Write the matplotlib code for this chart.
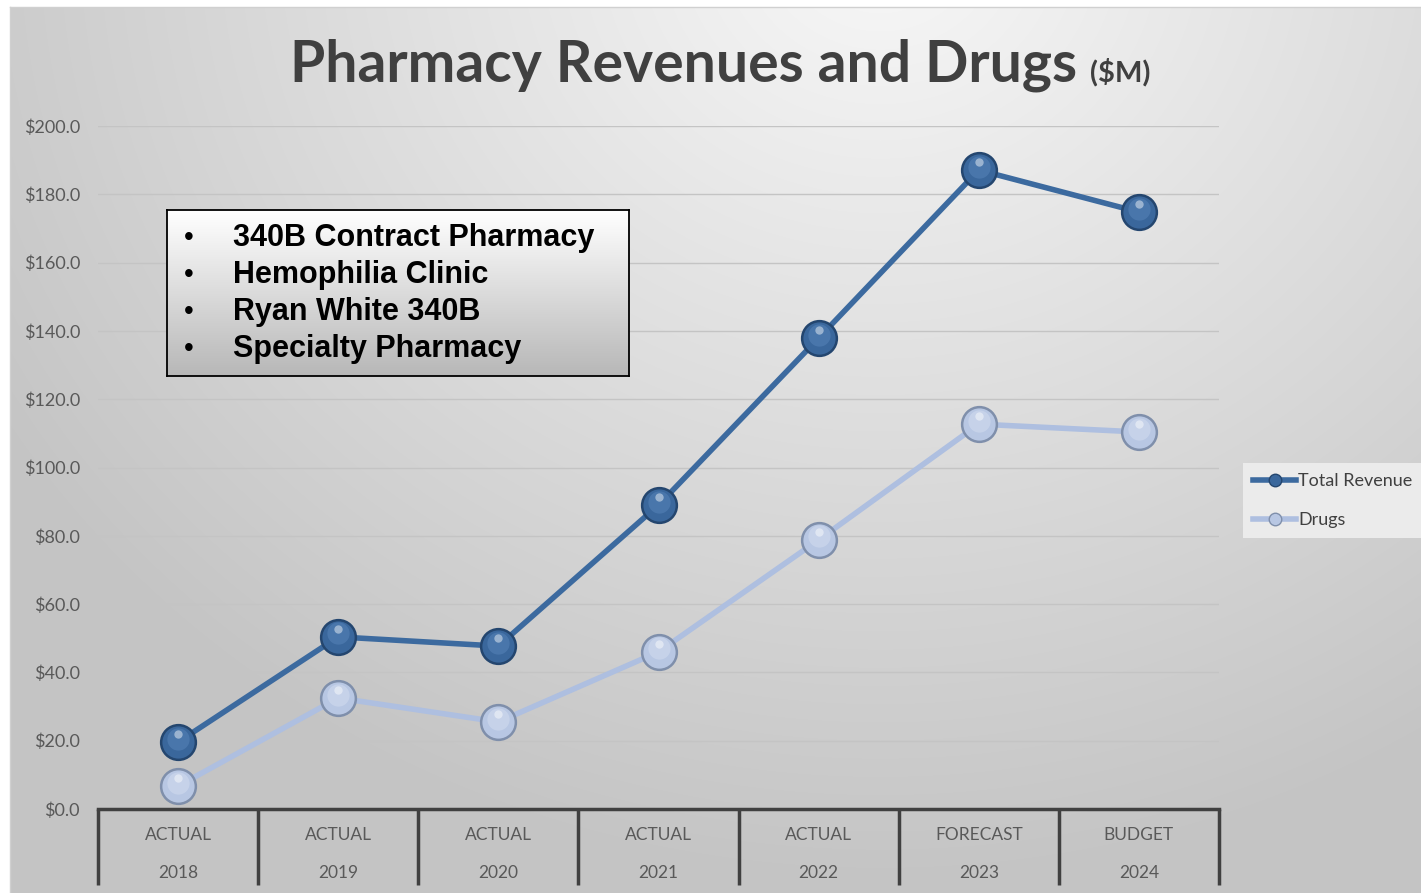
import matplotlib
matplotlib.use("Agg")
import matplotlib.pyplot as plt
import numpy as np
from matplotlib.lines import Line2D
import matplotlib.transforms as mtransforms

# data
phases = ['ACTUAL', 'ACTUAL', 'ACTUAL', 'ACTUAL', 'ACTUAL', 'FORECAST', 'BUDGET']
years = ['2018', '2019', '2020', '2021', '2022', '2023', '2024']
total_revenue = [19.6, 50.4, 47.7, 89.0, 137.9, 187.1, 174.8]
drugs = [6.7, 32.5, 25.5, 46.0, 78.8, 112.7, 110.4]
programs = ['340B Contract Pharmacy', 'Hemophilia Clinic', 'Ryan White 340B', 'Specialty Pharmacy']

W, H = 1421, 893
fig = plt.figure(figsize=(W / 100, H / 100), dpi=100)

# background gradient (chart area starts at x=10, y=7)
bg = fig.add_axes([0, 0, 1, 1], zorder=-10)
bg.set_axis_off()
yy, xx = np.mgrid[0:H, 0:W]
dist = np.sqrt(((xx - 880) * 1.0) ** 2 + ((yy + 60) * 1.1) ** 2)
shade = 248 - 0.05 * dist
shade = np.clip(shade, 196, 248) / 255.0
img = np.dstack([shade, shade, shade])
img[:7, :, :] = 1.0
img[:, :10, :] = 1.0
bg.imshow(img, extent=[0, W, H, 0], aspect='auto', interpolation='bilinear')
bg.set_xlim(0, W)
bg.set_ylim(H, 0)
bg.plot([10, W], [7, 7], color='#d0d0d0', lw=1)
bg.plot([10, 10], [7, H], color='#d0d0d0', lw=1)

# main axes
left, right, top, bottom = 98, 1219, 126, 809
ax = fig.add_axes([left / W, 1 - bottom / H, (right - left) / W, (bottom - top) / H])
ax.patch.set_alpha(0)
x = np.arange(len(years))
ax.set_xlim(-0.5, len(years) - 0.5)
ax.set_ylim(0, 200)
ax.set_yticks(np.arange(0, 201, 20))
ax.set_yticklabels([f'${v:.1f}' for v in np.arange(0, 201, 20)])
ax.tick_params(axis='y', length=0, pad=13, labelsize=13, labelcolor='#595959')
for lab in ax.get_yticklabels():
    lab.set_family('Lato')
ax.set_xticks([])
for s in ['top', 'right', 'left']:
    ax.spines[s].set_visible(False)
ax.spines['bottom'].set_color('#404040')
ax.spines['bottom'].set_linewidth(2.5)
ax.yaxis.grid(True, color='#c4c4c4', lw=1)
ax.set_axisbelow(True)

# category labels with dividers
trans = mtransforms.blended_transform_factory(ax.transData, ax.transAxes)
for i in range(len(years)):
    ax.text(i, -0.038, phases[i], transform=trans, ha='center', va='center',
            fontsize=12.5, color='#595959', family='Lato')
    ax.text(i, -0.094, years[i], transform=trans, ha='center', va='center',
            fontsize=12.5, color='#595959', family='Lato')
for b in np.arange(-0.5, len(years), 1.0):
    ax.plot([b, b], [0, -0.111], transform=trans, color='#404040', lw=2.5,
            clip_on=False, solid_capstyle='butt')


def sphere(xs, ys, base, edge, hi, z):
    ax.plot(xs, ys, 'o', ms=25, mfc=base, mec=edge, mew=1.8, zorder=z)
    ax.plot(xs, np.array(ys) + 1.0, 'o', ms=16, mfc=hi, mec='none', alpha=0.3, zorder=z + 0.1)
    ax.plot(xs, np.array(ys) + 2.4, 'o', ms=6, mfc='white', mec='none', alpha=0.45,
            zorder=z + 0.2)


ax.plot(x, drugs, color='#aebfe0', lw=4, zorder=3, solid_capstyle='round')
sphere(x, drugs, '#b8c7e3', '#7f8fab', '#e8eef9', 3.5)
ax.plot(x, total_revenue, color='#3c6a9f', lw=4, zorder=5, solid_capstyle='round')
sphere(x, total_revenue, '#3a679c', '#24466f', '#6f9bd0', 5.5)

# program text box
box_l, box_t, box_r, box_b = 167, 210, 629, 376
bx = fig.add_axes([box_l / W, 1 - box_b / H, (box_r - box_l) / W, (box_b - box_t) / H], zorder=8)
grad = np.linspace(1.0, 0.72, 100)[:, None] * np.ones((1, 10))
bx.imshow(np.dstack([grad, grad, grad]), extent=[0, 1, 0, 1], aspect='auto', origin='upper')
bx.set_xlim(0, 1)
bx.set_ylim(0, 1)
bx.set_xticks([])
bx.set_yticks([])
for s in bx.spines.values():
    s.set_color('black')
    s.set_linewidth(1.3)
for k, name in enumerate(programs):
    yk = 0.83 - k * 0.223
    bx.text(0.037, yk, '\u2022', fontsize=20, va='center', ha='left', family='Liberation Sans')
    bx.text(0.143, yk, name, fontsize=22, fontweight='bold', va='center', ha='left',
            family='Liberation Sans')

# title
fig.text(290 / W, 1 - 65 / H, 'Pharmacy Revenues and Drugs', fontsize=41, fontweight='bold',
         color='#404040', ha='left', va='center', family='Lato')
fig.text(1090 / W, 1 - 72 / H, '($M)', fontsize=21, fontweight='bold', color='#404040',
         ha='left', va='center', family='Lato')

# legend
h1 = Line2D([], [], color='#3c6a9f', lw=4, marker='o', ms=9, mfc='#3a679c', mec='#24466f')
h2 = Line2D([], [], color='#aebfe0', lw=4, marker='o', ms=9, mfc='#b8c7e3', mec='#7f8fab')
leg = fig.legend([h1, h2], ['Total Revenue', 'Drugs'], loc='upper left',
                 bbox_to_anchor=(1243 / W, 1 - 463 / H), frameon=True, fancybox=False,
                 facecolor='#ebebeb', edgecolor='none', framealpha=1,
                 prop={'family': 'Lato', 'size': 13}, handlelength=2.4, handletextpad=0.1,
                 labelspacing=1.3, borderpad=0.55, borderaxespad=0, labelcolor='#404040')

fig.savefig('out.png', dpi=100)
